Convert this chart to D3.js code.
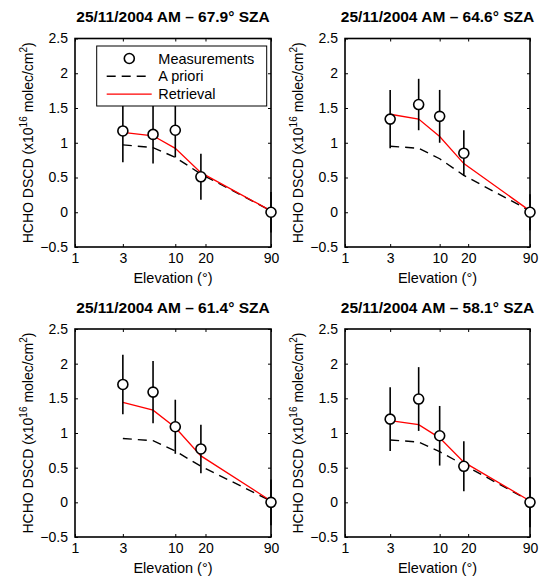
<!DOCTYPE html>
<html>
<head>
<meta charset="utf-8">
<script src="https://cdn.jsdelivr.net/npm/d3@7"></script>
<style>
  html, body { margin: 0; padding: 0; background: #fff; }
  svg { display: block; font-family: "Liberation Sans", Arial, Helvetica, sans-serif; }
</style>
</head>
<body>
<svg id="chart" width="541" height="578"></svg>
<script>
// Elevation angles (degrees) of the MAX-DOAS scans
const elevations = [3, 6, 10, 18, 90];

// Axis ticks
const xTicks = [1, 3, 10, 20, 90];
const yTicks = [-0.5, 0, 0.5, 1, 1.5, 2, 2.5];

// Panel titles
const titles = [
  "25/11/2004 AM \u2013 67.9\u00b0 SZA",
  "25/11/2004 AM \u2013 64.6\u00b0 SZA",
  "25/11/2004 AM \u2013 61.4\u00b0 SZA",
  "25/11/2004 AM \u2013 58.1\u00b0 SZA"
];

// Measured HCHO DSCDs (x1e16 molec/cm2) and their 1-sigma errors
const measured67 = [1.17, 1.12, 1.18, 0.51, 0.00];
const errors67   = [0.45, 0.42, 0.39, 0.33, 0.29];
const measured64 = [1.34, 1.55, 1.38, 0.85, 0.00];
const errors64   = [0.42, 0.37, 0.38, 0.33, 0.26];
const measured61 = [1.70, 1.59, 1.09, 0.77, 0.00];
const errors61   = [0.43, 0.45, 0.39, 0.35, 0.33];
const measured58 = [1.20, 1.49, 0.96, 0.52, 0.00];
const errors58   = [0.46, 0.46, 0.43, 0.36, 0.36];

// A priori DSCDs
const apriori67 = [0.97, 0.93, 0.79, 0.55, 0.02];
const apriori64 = [0.95, 0.92, 0.77, 0.53, 0.02];
const apriori61 = [0.92, 0.89, 0.74, 0.52, 0.02];
const apriori58 = [0.90, 0.87, 0.73, 0.54, 0.02];

// Retrieved DSCDs
const retrieval67 = [1.15, 1.10, 0.92, 0.57, 0.02];
const retrieval64 = [1.41, 1.34, 1.09, 0.70, 0.02];
const retrieval61 = [1.44, 1.33, 1.08, 0.67, 0.02];
const retrieval58 = [1.18, 1.12, 0.93, 0.58, 0.02];

const panels = [
  { title: titles[0], meas: measured67, err: errors67, apr: apriori67, ret: retrieval67, legend: true },
  { title: titles[1], meas: measured64, err: errors64, apr: apriori64, ret: retrieval64, legend: false },
  { title: titles[2], meas: measured61, err: errors61, apr: apriori61, ret: retrieval61, legend: false },
  { title: titles[3], meas: measured58, err: errors58, apr: apriori58, ret: retrieval58, legend: false }
];

// Plot-box geometry of the 2x2 grid
const boxes = [
  { left: 75,  right: 271, top: 38.5, bottom: 247 },
  { left: 345, right: 530, top: 38.5, bottom: 247 },
  { left: 75,  right: 271, top: 329,  bottom: 537 },
  { left: 345, right: 530, top: 329,  bottom: 537 }
];

const svg = d3.select("#chart");
const fmt = d3.format("");

panels.forEach((p, i) => {
  const b = boxes[i];
  const x = d3.scaleLog().domain([1, 90]).range([b.left, b.right]);
  const y = d3.scaleLinear().domain([-0.5, 2.5]).range([b.bottom, b.top]);
  const g = svg.append("g");
  const tick = 3;

  // Frame (drawn beneath the data)
  g.append("rect").attr("x", b.left).attr("y", b.top)
    .attr("width", b.right - b.left).attr("height", b.bottom - b.top)
    .attr("fill", "none").attr("stroke", "#000").attr("stroke-width", 1.6);

  // Axes (ticks inward, on all four sides)
  const axB = g.append("g").attr("transform", `translate(0,${b.bottom})`)
    .call(d3.axisBottom(x).tickValues(xTicks).tickFormat(d3.format("d")).tickSizeInner(-tick).tickSizeOuter(0).tickPadding(6));
  const axT = g.append("g").attr("transform", `translate(0,${b.top})`)
    .call(d3.axisTop(x).tickValues(xTicks).tickFormat("").tickSizeInner(-tick).tickSizeOuter(0));
  const axL = g.append("g").attr("transform", `translate(${b.left},0)`)
    .call(d3.axisLeft(y).tickValues(yTicks).tickFormat(fmt).tickSizeInner(-tick).tickSizeOuter(0).tickPadding(7));
  const axR = g.append("g").attr("transform", `translate(${b.right},0)`)
    .call(d3.axisRight(y).tickValues(yTicks).tickFormat("").tickSizeInner(-tick).tickSizeOuter(0));
  [axB, axT, axL, axR].forEach(a => {
    a.select(".domain").remove();
    a.selectAll("line").attr("stroke", "#000").attr("stroke-width", 1);
    a.selectAll("text").attr("fill", "#000").attr("font-size", 14)
      .attr("font-family", '"Liberation Sans", Arial, sans-serif');
  });
  axB.selectAll("text").attr("dy", "0.71em");

  // Series
  const line = d3.line().x((d, j) => x(elevations[j])).y(d => y(d));
  g.append("path").datum(p.apr).attr("d", line)
    .attr("fill", "none").attr("stroke", "#000").attr("stroke-width", 1.4)
    .attr("stroke-dasharray", "9,6");
  g.append("path").datum(p.ret).attr("d", line)
    .attr("fill", "none").attr("stroke", "#ff0000").attr("stroke-width", 1.3);

  g.selectAll(".err").data(p.meas).join("line")
    .attr("x1", (d, j) => x(elevations[j])).attr("x2", (d, j) => x(elevations[j]))
    .attr("y1", (d, j) => y(d - p.err[j])).attr("y2", (d, j) => y(d + p.err[j]))
    .attr("stroke", "#000").attr("stroke-width", 1.6);
  g.selectAll(".pt").data(p.meas).join("circle")
    .attr("cx", (d, j) => x(elevations[j])).attr("cy", d => y(d)).attr("r", 5)
    .attr("fill", "#fff").attr("stroke", "#000").attr("stroke-width", 1.6);

  // Title
  g.append("text").attr("x", (b.left + b.right) / 2).attr("y", b.top - 16.5)
    .attr("text-anchor", "middle").attr("font-weight", "bold").attr("font-size", 15.5)
    .text(p.title);

  // X label
  g.append("text").attr("x", (b.left + b.right) / 2).attr("y", b.bottom + 36)
    .attr("text-anchor", "middle").attr("font-size", 14.5).text("Elevation (\u00b0)");

  // Y label with superscripts
  const yl = g.append("text")
    .attr("transform", `translate(${b.left - 42},${(b.top + b.bottom) / 2}) rotate(-90)`)
    .attr("text-anchor", "middle").attr("font-size", 14);
  yl.append("tspan").text("HCHO DSCD (x10");
  yl.append("tspan").attr("font-size", 10).attr("dy", -6).text("16");
  yl.append("tspan").attr("dy", 6).text(" molec/cm");
  yl.append("tspan").attr("font-size", 10).attr("dy", -6).text("2");
  yl.append("tspan").attr("dy", 6).text(")");

  // Legend
  if (p.legend) {
    const lx = b.left + 21.7, ly = b.top + 7.5;
    const lg = g.append("g");
    lg.append("rect").attr("x", lx).attr("y", ly).attr("width", 170).attr("height", 60)
      .attr("fill", "#fff").attr("stroke", "#000").attr("stroke-width", 1);
    const rows = [
      { label: "Measurements", type: "circle" },
      { label: "A priori", type: "dash" },
      { label: "Retrieval", type: "red" }
    ];
    rows.forEach((r, k) => {
      const cy = ly + 12.5 + k * 17.8;
      if (r.type === "circle") {
        lg.append("circle").attr("cx", lx + 32.6).attr("cy", cy).attr("r", 5)
          .attr("fill", "#fff").attr("stroke", "#000").attr("stroke-width", 1.6);
      } else {
        lg.append("line").attr("x1", lx + 10).attr("x2", lx + 55).attr("y1", cy).attr("y2", cy)
          .attr("stroke", r.type === "red" ? "#ff0000" : "#000")
          .attr("stroke-width", r.type === "red" ? 1.3 : 1.4)
          .attr("stroke-dasharray", r.type === "dash" ? "9,6" : null);
      }
      lg.append("text").attr("x", lx + 61.6).attr("y", cy).attr("dy", "0.35em")
        .attr("font-size", 14.5).text(r.label);
    });
  }
});
</script>
</body>
</html>
